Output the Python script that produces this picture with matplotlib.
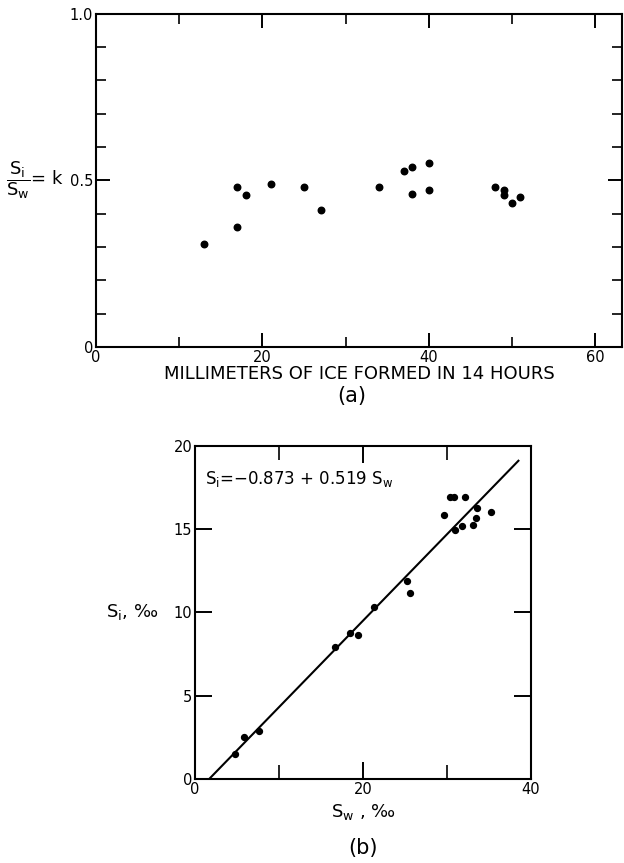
import matplotlib
matplotlib.use("Agg")
import matplotlib.pyplot as plt
import numpy as np

plt.rcParams['font.family'] = ['DejaVu Sans']
plt.rcParams['mathtext.default'] = 'regular'

# (a) salinity ratio vs ice thickness
ice_mm = [13, 17, 17, 18, 21, 25, 27, 34, 37, 38, 38, 40, 40, 48, 49, 49, 50, 51]
k_ratio = [0.31, 0.36, 0.48, 0.457, 0.489, 0.48, 0.411, 0.481, 0.529, 0.540,
           0.46, 0.552, 0.47, 0.48, 0.47, 0.456, 0.431, 0.451]

# (b) ice salinity vs water salinity
sw = [4.8, 5.8, 7.6, 16.7, 18.4, 19.4, 21.3, 25.2, 25.6, 29.6, 30.4, 30.8,
      32.1, 31.0, 31.8, 33.1, 33.6, 33.5, 35.2]
si = [1.48, 2.52, 2.88, 7.91, 8.75, 8.67, 10.35, 11.87, 11.15, 15.86, 16.96,
      16.92, 16.92, 14.94, 15.2, 15.27, 16.3, 15.7, 16.05]
fit_a, fit_b = -0.873, 0.519
fit_range = [-fit_a / fit_b, 38.5]

fig = plt.figure(figsize=(6.24, 8.63), dpi=100)

# ---------------- plot (a) ----------------
ax1 = fig.add_axes([0.1538, 0.598, 0.843, 0.386])
ax1.scatter(ice_mm, k_ratio, s=22, color='black', zorder=3)
ax1.set_xlim(0, 63.2)
ax1.set_ylim(0, 1.0)
ax1.set_xticks([0, 20, 40, 60])
ax1.set_xticks([10, 30, 50], minor=True)
ax1.set_yticks([0, 0.5, 1.0])
ax1.set_yticklabels(['0', '0.5', '1.0'])
ax1.set_yticks(np.arange(0.1, 1.0, 0.1), minor=True)
ax1.tick_params(which='major', direction='in', length=10, width=1.4,
                top=True, right=True, labelsize=10.5, pad=2)
ax1.tick_params(which='minor', direction='in', length=7, width=1.2,
                top=True, right=True)
for sp in ax1.spines.values():
    sp.set_linewidth(1.5)
ax1.set_xlabel('MILLIMETERS OF ICE FORMED IN 14 HOURS', fontsize=13, labelpad=0)
ax1.text(-0.062, 0.5, r'$\dfrac{S_i}{S_w}$= k', transform=ax1.transAxes,
         fontsize=13, ha='right', va='center')
fig.text(0.564, 0.541, '(a)', fontsize=15, ha='center', va='center')

# ---------------- plot (b) ----------------
ax2 = fig.add_axes([0.3125, 0.0973, 0.5385, 0.386])
ax2.scatter(sw, si, s=18, color='black', zorder=3)
ax2.plot(fit_range, [fit_a + fit_b * v for v in fit_range], color='black', lw=1.5)
ax2.set_xlim(0, 40)
ax2.set_ylim(0, 20)
ax2.set_xticks([0, 20, 40])
ax2.set_xticks([10, 30], minor=True)
ax2.set_yticks([0, 5, 10, 15, 20])
ax2.tick_params(which='major', direction='in', length=12, width=1.4,
                top=True, right=True, labelsize=10.5, pad=2)
ax2.tick_params(which='minor', direction='in', length=10, width=1.2,
                top=True, right=True)
for sp in ax2.spines.values():
    sp.set_linewidth(1.5)
ax2.text(0.03, 0.9, r'$S_i$=−0.873 + 0.519 $S_w$', transform=ax2.transAxes,
         fontsize=12, ha='left', va='center')
ax2.set_xlabel(r'$S_w$ , ‰', fontsize=13, labelpad=4)
ax2.text(-0.11, 0.5, r'$S_i$, ‰', transform=ax2.transAxes,
         fontsize=13, ha='right', va='center')
fig.text(0.581, 0.017, '(b)', fontsize=15, ha='center', va='center')

fig.savefig('out.png', dpi=100)
